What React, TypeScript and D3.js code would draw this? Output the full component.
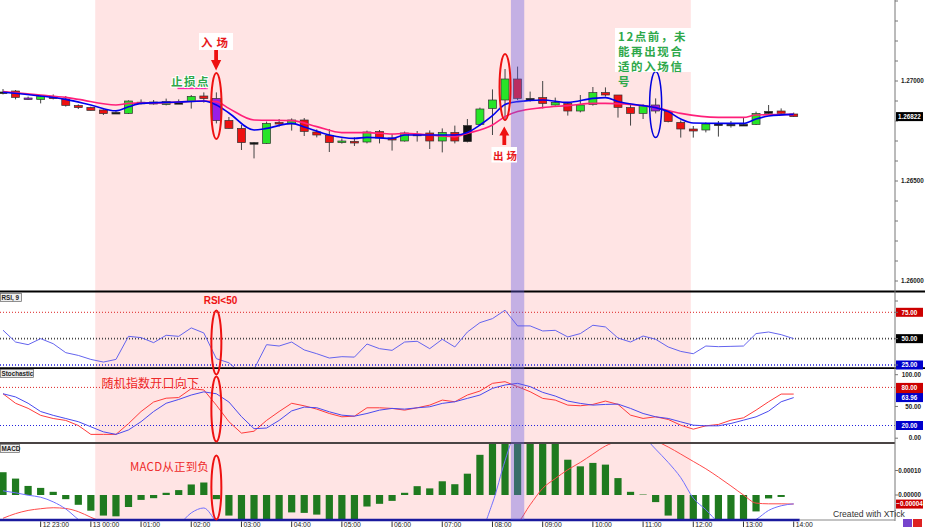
import React, { createRef } from "react";
import * as d3 from "d3";

const WIDTH = 925;
const HEIGHT = 527;
const AXIS_X = 895;
const LATIN = "'Liberation Sans', 'DejaVu Sans', sans-serif";
const CJK = "'Noto Sans CJK SC', sans-serif";

// EURUSD-ish 15 minute candles, 12 22:15 .. 13 14:00
const opens = [
  1.26945, 1.2695, 1.26915, 1.26908, 1.26922, 1.2691, 1.26877, 1.26868, 1.26855, 1.26843,
  1.26838, 1.26894, 1.26895, 1.26882, 1.26892, 1.26898, 1.26925, 1.26913, 1.26803, 1.26763,
  1.26692, 1.26688, 1.26793, 1.26785, 1.26805, 1.26745, 1.26728, 1.26692, 1.26698, 1.26695,
  1.26747, 1.26715, 1.267, 1.26734, 1.2674, 1.267, 1.26743, 1.26697, 1.26783, 1.26863,
  1.26905, 1.2701, 1.26913, 1.26917, 1.2688, 1.26887, 1.2685, 1.26883, 1.26942, 1.2693,
  1.26867, 1.26838, 1.2688, 1.26847, 1.26793, 1.2676, 1.26755, 1.26785, 1.26784, 1.26783,
  1.26783, 1.26838, 1.2685, 1.26835,
];
const highs = [
  1.2696, 1.26955, 1.26922, 1.26928, 1.26933, 1.26925, 1.26883, 1.26872, 1.26858, 1.26855,
  1.26903, 1.26908, 1.26905, 1.26912, 1.26908, 1.2693, 1.26943, 1.26943, 1.2682, 1.2678,
  1.26695, 1.26797, 1.2681, 1.26813, 1.26815, 1.26758, 1.2676, 1.26713, 1.26718, 1.26752,
  1.26755, 1.26735, 1.26747, 1.2675, 1.26753, 1.26763, 1.26777, 1.2681, 1.26867, 1.26958,
  1.2706, 1.27072, 1.26947, 1.27, 1.26917, 1.26893, 1.2693, 1.2697, 1.26968, 1.2693,
  1.26883, 1.26883, 1.26913, 1.26855, 1.26803, 1.26775, 1.26793, 1.268, 1.268, 1.26817,
  1.26847, 1.2688, 1.26863, 1.26842,
];
const lows = [
  1.26933, 1.26908, 1.26905, 1.26888, 1.26908, 1.26872, 1.2686, 1.26852, 1.2683, 1.26838,
  1.26835, 1.26883, 1.26882, 1.26878, 1.26885, 1.26862, 1.26892, 1.26788, 1.26762, 1.26655,
  1.26613, 1.26685, 1.26772, 1.26752, 1.26725, 1.26718, 1.26645, 1.26687, 1.26675, 1.26688,
  1.26688, 1.26652, 1.26697, 1.26697, 1.2666, 1.26643, 1.26688, 1.26693, 1.26777, 1.2673,
  1.268, 1.26905, 1.26897, 1.26863, 1.26877, 1.26827, 1.26843, 1.26877, 1.26922, 1.26817,
  1.26777, 1.2681, 1.26838, 1.26793, 1.26717, 1.26717, 1.26743, 1.26722, 1.26767, 1.2678,
  1.2678, 1.26833, 1.2683, 1.2682,
];
const closes = [
  1.26942, 1.26918, 1.26912, 1.26922, 1.26912, 1.26878, 1.26867, 1.26853, 1.26837, 1.26841,
  1.269, 1.26893, 1.26885, 1.26898, 1.26891, 1.26923, 1.26912, 1.26802, 1.26763, 1.26692,
  1.2669, 1.26788, 1.26785, 1.26805, 1.26748, 1.2673, 1.26692, 1.267, 1.2669, 1.26745,
  1.26715, 1.26705, 1.2674, 1.26733, 1.267, 1.26743, 1.267, 1.26777, 1.2686, 1.26905,
  1.2701, 1.26913, 1.26913, 1.26888, 1.26893, 1.2685, 1.2688, 1.26942, 1.2693, 1.26868,
  1.26838, 1.26877, 1.2685, 1.26797, 1.2676, 1.2675, 1.26785, 1.26784, 1.26783, 1.26782,
  1.26838, 1.26848, 1.26838, 1.26822,
];
// g = up, r = down, k = black / doji, p = marked candle
const candleKinds = (
  "krpgrrrrrk" + "gkrgkgrprr" + "kgrgrrrgrg" + "rrgkrgrkgg" + "grkrgrggrr" + "rgprrrgkkk" + "gkrr"
).split("");

const maFast: [number, number][] = [
  [0, 1.26944], [3, 1.26925], [5, 1.26908], [7, 1.2688], [9, 1.26851], [10, 1.26871],
  [11, 1.26888], [14, 1.26895], [16, 1.269], [17, 1.2688], [18, 1.2684], [20, 1.26755],
  [21, 1.26763], [23, 1.26788], [24, 1.2677], [26, 1.2673], [28, 1.26713], [29, 1.26718],
  [31, 1.26713], [32, 1.2673], [36, 1.2673], [37, 1.26743], [38, 1.2678], [39, 1.26827],
  [40, 1.26883], [41, 1.26897], [43, 1.26905], [45, 1.26893], [47, 1.26913], [48, 1.26917],
  [49, 1.26897], [51, 1.26877], [52, 1.26867], [53, 1.26847], [54, 1.2681], [55, 1.2679],
  [57, 1.26788], [59, 1.26788], [60, 1.2681], [61, 1.26825], [63, 1.26833],
];
const maSlow: [number, number][] = [
  [0, 1.26947], [3, 1.2693], [5, 1.26918], [6, 1.26908], [9, 1.2688], [10, 1.26888],
  [13, 1.26892], [16, 1.269], [17, 1.26897], [18, 1.26863], [20, 1.26805], [23, 1.26802],
  [25, 1.26772], [27, 1.26742], [29, 1.26742], [31, 1.26735], [32, 1.26738], [36, 1.26722],
  [37, 1.26738], [39, 1.2678], [40, 1.26822], [41, 1.26847], [43, 1.26867], [45, 1.26877],
  [47, 1.26888], [48, 1.26888], [51, 1.26877], [52, 1.26867], [54, 1.26838], [57, 1.26818],
  [59, 1.26818], [60, 1.2683], [63, 1.26833],
];

const rsi = [
  58, 46.8, 44.3, 50, 45.2, 36.7, 34.1, 30.3, 27.8, 30.3, 52.2, 51, 46.2, 53.2, 52.2, 60.2,
  55.4, 31, 27.1, 17, 21, 44.3, 43, 46.8, 39.3, 35.7, 31.6, 32.9, 32.5, 44.9, 40.5, 38.9,
  46.8, 47.5, 40.5, 49.4, 42.1, 56.3, 65.2, 69, 77, 62.1, 62.1, 57.3, 57.9, 51.6, 54.8, 62.7,
  61.1, 50.6, 46.8, 52.5, 49.4, 42.1, 37.9, 35.7, 43, 42.4, 42.7, 43, 54.8, 56.3, 53.8, 50,
];
const stochK = [
  70, 55, 47, 36, 31, 28, 20, 6, 6, 6, 23, 42, 57, 63, 64, 78, 76, 52, 26, 8, 11, 28, 42, 55,
  51, 45.8, 38.9, 33.7, 34.7, 47.9, 47.9, 46.9, 44.2, 47.9, 52.1, 60, 57.4, 68, 74.3, 86.4,
  89, 81.2, 73.2, 62.7, 60, 52.1, 51.1, 53.2, 58.5, 53.2, 36.3, 31.1, 33.7, 29.5, 20.5, 14.2,
  19.5, 21.6, 28.4, 32.1, 44.2, 57.4, 69.5, 69.5,
];
const stochD = [
  70, 65, 55, 42, 36, 31, 26, 18, 10, 6, 13, 26, 42, 55, 61, 68, 73, 70, 57, 34, 15, 16, 28, 43,
  49, 48, 41.6, 36.3, 34.7, 38.9, 44.2, 46.9, 45.8, 47.9, 49.5, 54.8, 57.4, 62.7, 68, 78.5,
  83.8, 86.4, 81.2, 72.2, 66.4, 58.5, 54.8, 52.1, 53.2, 53.7, 46.9, 38.9, 33.7, 31.1, 25.8,
  20.5, 19.5, 19.5, 23.2, 28.4, 33.7, 42.6, 57.4, 63.96,
];
// MACD values in units of 1e-5
const macdHist = [
  9.3, 6.7, 3.7, 2.9, 1.3, -1.7, -4, -6.4, -8.4, -8.7, -4.9, -2, -1.3, 0.9, 2, 4.3, 5.1, -1.7,
  -8.4, -11, -11.5, -12, -11, -7.1, -7.3, -8, -10.5, -11, -10.5, -4.7, -3.6, -2.4, 0.9, 3.6,
  2.7, 5.6, 4.4, 8.7, 16.4, 22, 24, 25, 24, 23, 22, 14.4, 11.7, 13.1, 12.4, 6.9, 1.3, 0.2,
  -2.9, -8.4, -11, -12, -12.5, -12, -11.5, -11, -6.7, -1.4, -0.8, 0,
];
const macdLine = [
  1.7, 0.9, -0.1, -0.9, -2.8, -5.7, -10, -14, -17, -18, -18, -17, -16, -14, -12, -7.3, -5.3,
  -10.8, -14, -17, -19, -19, -18, -18, -17, -17, -17, -17, -16, -15, -14, -14, -13, -13, -13,
  -12, -12, -12, -14, -3.3, 14, 28, 32, 32, 31, 30, 30, 30, 30, 30, 28, 24, 18.7, 13.3, 7.1,
  -1.3, -6, -11.2, -14, -12, -10, -6.3, -4.4, -3.6,
];
const macdSignal = [
  -9.5, -7.6, -6.3, -5.6, -5.2, -5.5, -6.8, -9.1, -11.2, -13, -14, -15, -15, -15, -15, -15,
  -15, -15, -15, -15.5, -16, -16, -16, -16, -16, -16, -16, -16, -16, -16, -16, -15.5, -15.5,
  -15, -15, -15, -14.5, -14.5, -14, -13.5, -13, -11.2, -4, 2.7, 6.7, 10.3, 13.3, 16.7, 20, 22,
  23.2, 23.2, 22, 19.6, 16.7, 13.7, 10.7, 7.3, 3.7, 0, -3.3, -3.6, -3.6, -3.7,
];

const hourIndex = [3, 7, 11, 15, 19, 23, 27, 31, 35, 39, 43, 47, 51, 55, 59, 63];
const hourLabels = [
  "12 23:00", "13 00:00", "01:00", "02:00", "03:00", "04:00", "05:00", "06:00",
  "07:00", "08:00", "09:00", "10:00", "11:00", "12:00", "13:00", "14:00",
];
const priceLabels = [1.26, 1.265, 1.27];
const stochLabels = [100, 50, 0];
const macdLabels = [0.0001, 0];

const sessionRange = [7.35, 54.8];
const exitBar = 41;
const stopLoss = 1.26963;

const candleFill = { g: "#28e428", r: "#ee1111", k: "#111111", p: "#9a1ee8" };

class XTickChart extends React.Component {
  svgRef = createRef<SVGSVGElement>();

  componentDidMount() {
    this.drawGraph();
  }

  private drawGraph() {
    const svg = d3.select(this.svgRef.current);
    svg.selectAll("*").remove();

    const X = d3.scaleLinear().domain([0, 63]).range([3, 793.7]);
    const Yp = d3.scaleLinear().domain([1.26, 1.27]).range([281, 81]);
    const Yr = d3.scaleLinear().domain([25, 75]).range([365, 312.3]);
    const Ys = d3.scaleLinear().domain([0, 100]).range([438.2, 374.7]);
    const Ym = d3.scaleLinear().domain([0, 10]).range([495, 470.5]);

    const defs = svg.append("defs");
    const clip = (id, y0, y1) =>
      defs.append("clipPath").attr("id", id).append("rect")
        .attr("x", 0).attr("y", y0).attr("width", AXIS_X).attr("height", y1 - y0);
    clip("c-price", 0, 291);
    clip("c-rsi", 292, 367.5);
    clip("c-stoch", 369, 441.5);
    clip("c-macd", 443.5, 519.5);

    svg.append("rect").attr("width", WIDTH).attr("height", HEIGHT).attr("fill", "#fff");
    svg.append("rect")
      .attr("x", X(sessionRange[0])).attr("y", 0)
      .attr("width", X(sessionRange[1]) - X(sessionRange[0])).attr("height", 520)
      .attr("fill", "#ffe4e4");

    // price panel
    const gp = svg.append("g").attr("clip-path", "url(#c-price)");
    const idx = d3.range(opens.length);
    gp.selectAll("line.wick").data(idx).enter().append("line")
      .attr("x1", (i) => X(i)).attr("x2", (i) => X(i))
      .attr("y1", (i) => Yp(highs[i])).attr("y2", (i) => Yp(lows[i]))
      .attr("stroke", "#444").attr("stroke-width", 1);
    gp.selectAll("rect.body").data(idx).enter().append("rect")
      .attr("x", (i) => X(i) - 4).attr("width", 8)
      .attr("y", (i) => Yp(Math.max(opens[i], closes[i])))
      .attr("height", (i) => Math.max(1.6, Math.abs(Yp(opens[i]) - Yp(closes[i]))))
      .attr("fill", (i) => candleFill[candleKinds[i]])
      .attr("stroke", "#333").attr("stroke-width", 0.7);

    const maLine = d3.line<[number, number]>()
      .x((d) => X(d[0])).y((d) => Yp(d[1])).curve(d3.curveMonotoneX);
    gp.append("path").attr("d", maLine(maSlow)).attr("fill", "none")
      .attr("stroke", "#ff1f7a").attr("stroke-width", 1.6);
    gp.append("path").attr("d", maLine(maFast)).attr("fill", "none")
      .attr("stroke", "#0000ee").attr("stroke-width", 1.6);

    // RSI panel
    const gr = svg.append("g").attr("clip-path", "url(#c-rsi)");
    const level = (g, y, color, w = 1) =>
      g.append("line").attr("x1", 0).attr("x2", AXIS_X).attr("y1", y).attr("y2", y)
        .attr("stroke", color).attr("stroke-width", w).attr("stroke-dasharray", "1,2");
    level(gr, Yr(75), "#dd2222");
    level(gr, Yr(50), "#444", 1.6);
    level(gr, Yr(25), "#2222dd", 1.4);
    gr.append("path")
      .attr("d", d3.line<number>().x((d, i) => X(i)).y((d) => Yr(d))(rsi))
      .attr("fill", "none").attr("stroke", "#6464ee").attr("stroke-width", 1);

    // Stochastic panel
    const gs = svg.append("g").attr("clip-path", "url(#c-stoch)");
    level(gs, Ys(80), "#dd2222");
    level(gs, Ys(20), "#2222dd");
    const sLine = d3.line<number>().x((d, i) => X(i)).y((d) => Ys(d));
    gs.append("path").attr("d", sLine(stochK)).attr("fill", "none")
      .attr("stroke", "#ff3b3b").attr("stroke-width", 1);
    gs.append("path").attr("d", sLine(stochD)).attr("fill", "none")
      .attr("stroke", "#4a4aee").attr("stroke-width", 1);

    // MACD panel
    const gm = svg.append("g").attr("clip-path", "url(#c-macd)");
    gm.selectAll("rect.bar").data(macdHist).enter().append("rect")
      .attr("x", (d, i) => X(i) - 3.6).attr("width", 7.2)
      .attr("y", (d) => Math.min(Ym(d), Ym(0)))
      .attr("height", (d) => Math.abs(Ym(d) - Ym(0)))
      .attr("fill", "#1f7a1f");
    const mLine = d3.line<number>().x((d, i) => X(i)).y((d) => Ym(d)).curve(d3.curveMonotoneX);
    gm.append("path").attr("d", mLine(macdSignal)).attr("fill", "none")
      .attr("stroke", "#ff4a4a").attr("stroke-width", 1);
    gm.append("path").attr("d", mLine(macdLine)).attr("fill", "none")
      .attr("stroke", "#7070ff").attr("stroke-width", 1);

    // separators and frame
    svg.append("line").attr("x1", 0).attr("x2", WIDTH).attr("y1", 291.5).attr("y2", 291.5)
      .attr("stroke", "#000").attr("stroke-width", 1.8);
    svg.append("line").attr("x1", 0).attr("x2", WIDTH).attr("y1", 368.2).attr("y2", 368.2)
      .attr("stroke", "#000").attr("stroke-width", 1.8);
    svg.append("line").attr("x1", 0).attr("x2", AXIS_X).attr("y1", 443).attr("y2", 443)
      .attr("stroke", "#4a4444").attr("stroke-width", 2);
    svg.append("line").attr("x1", AXIS_X).attr("x2", AXIS_X).attr("y1", 0).attr("y2", 521)
      .attr("stroke", "#777").attr("stroke-width", 1);
    svg.append("line").attr("x1", 0).attr("x2", X(63) + 6).attr("y1", 520).attr("y2", 520)
      .attr("stroke", "#1a1a9e").attr("stroke-width", 2.6);
    svg.append("line").attr("x1", X(63) + 6).attr("x2", AXIS_X).attr("y1", 520).attr("y2", 520)
      .attr("stroke", "#888").attr("stroke-width", 1);

    // right axis
    const axis = svg.append("g").attr("font-family", LATIN).attr("font-size", 6.3)
      .attr("font-weight", "bold");
    d3.range(1.259, 1.2745, 0.001).forEach((p) => {
      axis.append("line").attr("x1", AXIS_X).attr("x2", AXIS_X + 3)
        .attr("y1", Yp(p)).attr("y2", Yp(p)).attr("stroke", "#777");
    });
    priceLabels.forEach((p) => {
      axis.append("text").attr("x", 901).attr("y", Yp(p) + 2.2).attr("fill", "#222")
        .text(d3.format(".5f")(p));
    });
    const tag = (y, text, bg, fg = "#fff") => {
      axis.append("rect").attr("x", 896).attr("y", y - 4.5).attr("width", 27).attr("height", 9)
        .attr("fill", bg);
      if (text)
        axis.append("text").attr("x", 909.5).attr("y", y + 2.2).attr("text-anchor", "middle")
          .attr("fill", fg).text(text);
    };
    tag(Yp(closes[63]), d3.format(".5f")(closes[63]), "#000");
    tag(Yr(75), "75.00", "#cc0000");
    tag(Yr(50), "50.00", "#000");
    tag(Yr(25), "25.00", "#0000cc");
    stochLabels.forEach((v) => {
      axis.append("text").attr("x", 921).attr("y", Ys(v) + 2.2).attr("text-anchor", "end")
        .attr("fill", "#222").text(d3.format(".2f")(v));
    });
    // %K tag sits under the %D tag; only its red edge shows
    tag(Ys(stochK[63]), "", "#cc0000");
    tag(Ys(80), "80.00", "#cc0000");
    tag(Ys(stochD[63]), d3.format(".2f")(stochD[63]), "#0000cc");
    tag(Ys(20), "20.00", "#0000cc");
    macdLabels.forEach((v) => {
      axis.append("text").attr("x", 921).attr("y", Ym(v * 1e5) + 2.2).attr("text-anchor", "end")
        .attr("fill", "#222").text(d3.format(".5f")(v));
    });
    tag(Ym(macdSignal[63]), d3.format(".5f")(macdSignal[63] / 1e5), "#cc0000");
    [Yr(75), Yr(50), Yr(25), Ys(100), Ys(50), Ys(0), Ym(10), Ym(0)].forEach((y) => {
      axis.append("line").attr("x1", AXIS_X).attr("x2", AXIS_X + 3)
        .attr("y1", y).attr("y2", y).attr("stroke", "#777");
    });

    // time axis
    const tAxis = svg.append("g").attr("font-family", LATIN).attr("font-size", 6.8)
      .attr("fill", "#222");
    hourIndex.forEach((i, k) => {
      tAxis.append("line").attr("x1", X(i)).attr("x2", X(i)).attr("y1", 521.5).attr("y2", 527)
        .attr("stroke", "#333");
      tAxis.append("text").attr("x", X(i) + 2).attr("y", 527).text(hourLabels[k]);
    });
    svg.append("text").attr("x", 833).attr("y", 517).attr("font-family", LATIN)
      .attr("font-size", 8.6).attr("fill", "#333").text("Created with XTick");
    svg.append("rect").attr("x", 903).attr("y", 519).attr("width", 9).attr("height", 8)
      .attr("fill", "#7744cc");
    svg.append("rect").attr("x", 913).attr("y", 519).attr("width", 9).attr("height", 8)
      .attr("fill", "#dd2222");

    // panel titles
    const title = (y, w, text) => {
      svg.append("rect").attr("x", 0.5).attr("y", y).attr("width", w).attr("height", 8)
        .attr("fill", "#eee").attr("stroke", "#666").attr("stroke-width", 0.7);
      svg.append("text").attr("x", 1.5).attr("y", y + 6.5).attr("font-family", LATIN)
        .attr("font-size", 6.3).attr("font-weight", "bold").attr("fill", "#222").text(text);
    };
    title(293.5, 21, "RSI, 9");
    title(369.5, 33, "Stochastic");
    title(444.5, 19, "MACD");

    // exit bar highlight
    svg.append("rect")
      .attr("x", X(exitBar - 0.53)).attr("y", 0)
      .attr("width", X(exitBar + 0.53) - X(exitBar - 0.53)).attr("height", 520)
      .attr("fill", "rgb(100,92,228)").attr("opacity", 0.38);

    // annotations
    const ann = svg.append("g");
    const ellipse = (cx, cy, rx, ry, color, w = 2) =>
      ann.append("ellipse").attr("cx", cx).attr("cy", cy).attr("rx", rx).attr("ry", ry)
        .attr("fill", "none").attr("stroke", color).attr("stroke-width", w);
    ellipse(X(17), 106, 5.2, 33, "#ee1111");
    ellipse(X(17), 342.5, 5, 32, "#ee1111");
    ellipse(X(17), 409, 5, 32.5, "#ee1111");
    ellipse(X(17), 487.5, 5, 32, "#ee1111");
    ellipse(X(40), 87, 5.5, 33, "#ee1111");
    ellipse(X(52), 104.5, 6, 33, "#0000dd", 1.5);

    ann.append("line").attr("x1", X(13.9)).attr("x2", X(16.3))
      .attr("y1", Yp(stopLoss)).attr("y2", Yp(stopLoss))
      .attr("stroke", "#ff22aa").attr("stroke-width", 1.5);

    const box = (x, y, w, h) =>
      ann.append("rect").attr("x", x).attr("y", y).attr("width", w).attr("height", h).attr("fill", "#fff");
    const cjk = (x, y, text, color, size, weight = "bold", spacing = 0, anchor = "start") =>
      ann.append("text").attr("x", x).attr("y", y).attr("font-family", CJK)
        .attr("font-size", size).attr("font-weight", weight).attr("fill", color)
        .attr("letter-spacing", spacing).attr("text-anchor", anchor).text(text);

    box(199, 33, 34, 17);
    cjk(201, 46.5, "入场", "#e8191c", 11.5, "bold", 4);
    ann.append("path").attr("d", "M214.2,50 h3.8 v10 h3.2 l-5.1,10.5 l-5.1,-10.5 h3.2 z")
      .attr("fill", "#ee1111");

    cjk(171, 86, "止损点", "#2ea84a", 11.5, "bold", 1.5)
      .attr("stroke", "#fff").attr("stroke-width", 2).attr("paint-order", "stroke");

    box(491.5, 147, 25.5, 15.5);
    cjk(493, 159.5, "出场", "#e8191c", 10.5, "bold", 3);
    ann.append("path").attr("d", "M504.3,126.5 l5,9 h-3.1 v9.5 h-3.8 v-9.5 h-3.1 z")
      .attr("fill", "#ee1111");

    box(615, 28, 76, 44);
    const note = ["12点前，未", "能再出现合", "适的入场信", "号"];
    note.forEach((t, k) => cjk(618, 41 + k * 15, t, "#2ea84a", 11.5, "bold", 1.6));

    ann.append("text").attr("x", 220.5).attr("y", 303.5).attr("text-anchor", "middle")
      .attr("font-family", LATIN).attr("font-size", 10).attr("font-weight", "bold")
      .attr("fill", "#ee1111").text("RSI<50");
    cjk(101.5, 388, "随机指数开口向下", "#ee2a2a", 12, "normal", 0.2);
    cjk(130, 470.5, "MACD从正到负", "#ee2a2a", 11.5, "normal", 0.2);
  }

  render() {
    return (
      <svg
        ref={this.svgRef}
        width={WIDTH}
        height={HEIGHT}
        style={{ position: "absolute", left: 0, top: 0, display: "block" }}
      />
    );
  }
}

export default function App() {
  return <XTickChart />;
}
